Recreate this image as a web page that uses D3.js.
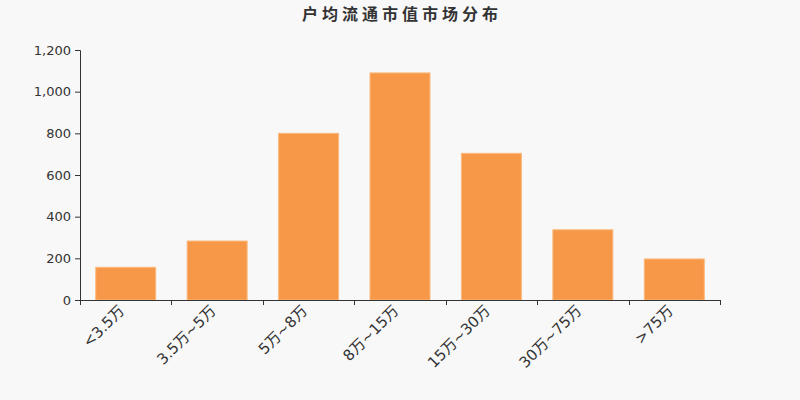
<!DOCTYPE html>
<html>
<head>
<meta charset="utf-8">
<script src="https://cdn.jsdelivr.net/npm/d3@7"></script>
<style>
  body { margin: 0; background: #f8f8f8; }
  svg { display: block; }
</style>
</head>
<body>
<script>
'use strict';

const title = "户均流通市值市场分布"
const categories = ["<3.5万", "3.5万~5万", "5万~8万", "8万~15万", "15万~30万", "30万~75万", ">75万"]
const values = [157, 283, 800, 1090, 704, 337, 197]
const yTicks = [0, 200, 400, 600, 800, 1000, 1200]

const m = { left: 80, right: 720, top: 50, bottom: 300 }
const font = "'DejaVu Sans', 'Noto Sans CJK SC', sans-serif"

const svg = d3.select("body").append("svg")
    .attr("width", 800)
    .attr("height", 400)

svg.append("rect")
    .attr("width", 800).attr("height", 400)
    .attr("fill", "#f8f8f8")

svg.append("text")
    .attr("x", 402)
    .attr("y", 20)
    .attr("text-anchor", "middle")
    .style("font-family", "'Noto Sans CJK SC', sans-serif")
    .style("font-size", "16px")
    .style("font-weight", "bold")
    .style("letter-spacing", "4px")
    .attr("fill", "#333")
    .text(title)

let x = d3.scaleBand()
    .domain(categories)
    .range([m.left, m.right])
    .paddingInner(0.344)
    .paddingOuter(0.172)

let y = d3.scaleLinear()
    .domain([0, 1200])
    .range([m.bottom, m.top])

// bars
svg.selectAll("rect.bar")
    .data(values)
    .enter()
    .append("rect")
    .attr("class", "bar")
    .attr("x", (d, i) => x(categories[i]))
    .attr("y", d => y(d))
    .attr("width", x.bandwidth())
    .attr("height", d => y(0) - y(d))
    .attr("fill", "#f79848")
    .attr("stroke", "#fbb97e")
    .attr("stroke-width", 1)

// y axis
let yAxis = svg.append("g")
    .attr("transform", "translate(" + m.left + ",0)")
    .call(d3.axisLeft(y).tickValues(yTicks).tickSize(5).tickPadding(4).tickFormat(d3.format(",")))
yAxis.select(".domain").attr("stroke", "#333")
yAxis.selectAll(".tick line").attr("stroke", "#333")
yAxis.selectAll("text")
    .style("font-family", font)
    .style("font-size", "13px")
    .attr("fill", "#333")

// x axis, ticks on band boundaries
let xAxisG = svg.append("g")
xAxisG.append("line")
    .attr("x1", m.left).attr("x2", m.right)
    .attr("y1", m.bottom + 0.5).attr("y2", m.bottom + 0.5)
    .attr("stroke", "#333")
let edges = d3.range(categories.length + 1).map(i => m.left + i * (m.right - m.left) / categories.length)
xAxisG.selectAll("line.tick")
    .data(edges)
    .enter()
    .append("line")
    .attr("class", "tick")
    .attr("x1", d => Math.round(d) + 0.5).attr("x2", d => Math.round(d) + 0.5)
    .attr("y1", m.bottom).attr("y2", m.bottom + 5)
    .attr("stroke", "#333")

xAxisG.selectAll("text")
    .data(categories)
    .enter()
    .append("text")
    .attr("transform", d => "translate(" + (x(d) + x.bandwidth() / 2 - 4) + "," + (m.bottom + 8) + ") rotate(-45)")
    .attr("text-anchor", "end")
    .attr("dy", "0.35em")
    .style("font-family", font)
    .style("font-size", "15px")
    .attr("fill", "#333")
    .text(d => d)
</script>
</body>
</html>
